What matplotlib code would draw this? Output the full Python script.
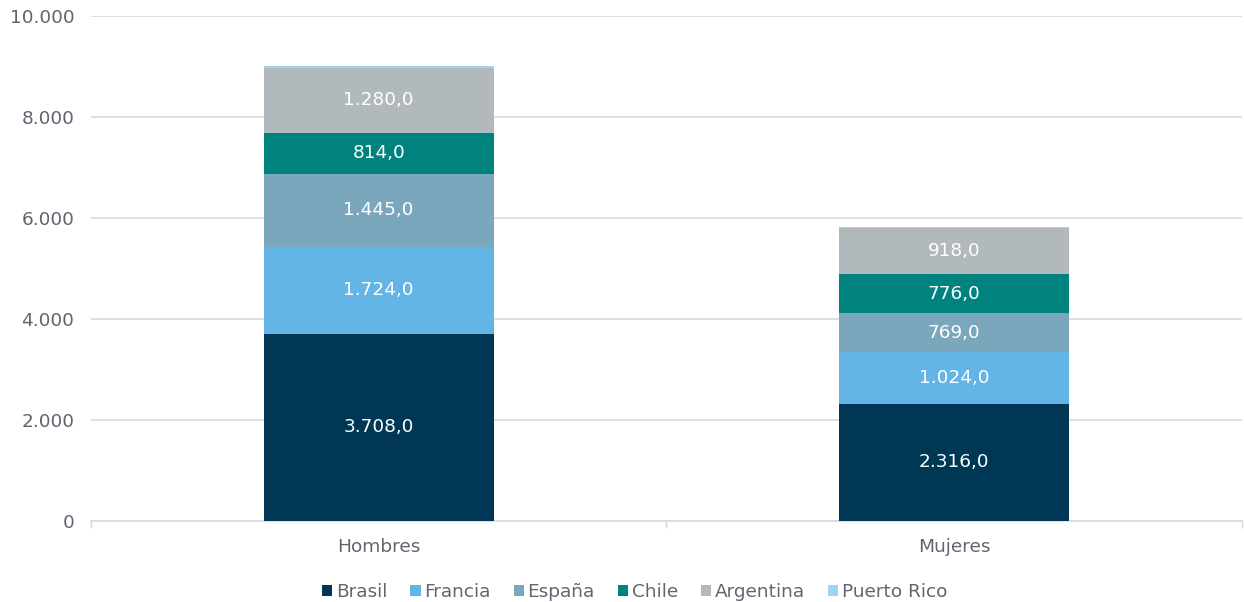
import matplotlib.pyplot as plt
import numpy as np

plt.rcParams["font.family"] = ["DejaVu Sans"]

# Datos
categorias = ["Hombres", "Mujeres"]
paises = ["Brasil", "Francia", "España", "Chile", "Argentina", "Puerto Rico"]
brasil = [3708, 2316]
francia = [1724, 1024]
espana = [1445, 769]
chile = [814, 776]
argentina = [1280, 918]
puerto_rico = [45, 20]
series = [brasil, francia, espana, chile, argentina, puerto_rico]
colores = ["#003755", "#62b5e5", "#7ba7bc", "#00827f", "#b1b9bc", "#a0d4ef"]
mostrar_etiqueta = [True, True, True, True, True, False]


def fmt(v):
    s = f"{v:,.1f}"
    return s.replace(",", "X").replace(".", ",").replace("X", ".")


txt_color = "#5f6670"
fs = 13.3

fig = plt.figure(figsize=(12.44, 6.02), dpi=100)
ax = fig.add_axes([0.0732, 0.1346, 0.9248, 0.8388])

x = np.arange(len(categorias))
base = np.zeros(len(categorias))
for nombre, vals, col, lab in zip(paises, series, colores, mostrar_etiqueta):
    bars = ax.bar(x, vals, bottom=base, width=0.4, color=col, label=nombre, zorder=3)
    if lab:
        ax.bar_label(bars, labels=[fmt(v) for v in vals], label_type="center",
                     color="white", fontsize=fs)
    base += np.array(vals)

ax.set_xlim(-0.5, 1.5)
ax.set_ylim(0, 10000)
ax.set_yticks(range(0, 10001, 2000))
ax.set_yticklabels([fmt(v)[:-2] if v else "0" for v in range(0, 10001, 2000)])
ax.set_xticks(x)
ax.set_xticklabels(categorias)
ax.set_xticks([-0.5, 0.5, 1.5], minor=True)
ax.tick_params(axis="x", which="major", length=0, pad=12, labelsize=fs, labelcolor=txt_color)
ax.tick_params(axis="x", which="minor", length=5, color="#d9d9d9", width=1)
ax.tick_params(axis="y", length=0, pad=12, labelsize=fs, labelcolor=txt_color)

ax.grid(axis="y", color="#d9d9d9", linewidth=1.2, zorder=0)
for s in ["top", "right", "left"]:
    ax.spines[s].set_visible(False)
ax.spines["bottom"].set_color("#d9d9d9")
ax.spines["bottom"].set_linewidth(1.2)

ax.legend(loc="upper center", bbox_to_anchor=(0.4726, -0.09), ncol=6, frameon=False,
          fontsize=fs, labelcolor=txt_color, handlelength=0.55, handleheight=0.55,
          handletextpad=0.2, columnspacing=1.25)

fig.savefig("out.png", dpi=100)
